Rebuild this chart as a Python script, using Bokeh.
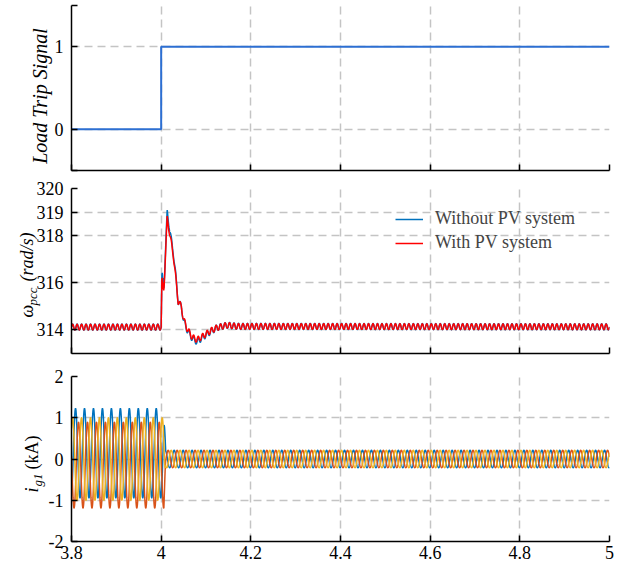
import math
import numpy as np
from bokeh.plotting import figure
from bokeh.layouts import column
from bokeh.models import FixedTicker, Range1d
from bokeh.core.properties import value
from bokeh.embed import file_html
from bokeh.resources import INLINE

# ---------------- data ----------------
x_ticks = [3.8, 4.0, 4.2, 4.4, 4.6, 4.8, 5.0]
x_tick_labels = ["3.8", "4", "4.2", "4.4", "4.6", "4.8", "5"]
x_grid = [4.0, 4.2, 4.4, 4.6, 4.8]

# Panel 1: load trip signal
trip_t = [3.8, 4.0, 4.0, 5.0]
trip_signal = [0, 0, 1, 1]
sig_ticks = [0, 1]
sig_tick_labels = ["0", "1"]
sig_end_ticks = [-0.5, 1.5]
sig_grid = [0, 1]

# Panel 2: PCC angular frequency (rad/s), slow trend + 100 Hz ripple
w_key_t = [3.8, 4.0, 4.0015, 4.0025, 4.0035, 4.0045, 4.0055, 4.0065, 4.0135,
           4.021, 4.027, 4.032, 4.038, 4.045, 4.050, 4.058, 4.069, 4.080,
           4.095, 4.110, 4.125, 4.147, 4.17, 5.0]
w_without_pv = [314.12, 314.12, 316.2, 316.3, 315.7, 316.2, 315.8, 316.0, 319.0,
                318.0, 317.3, 316.4, 315.2, 315.0, 314.4, 314.0, 313.65, 313.5,
                313.72, 313.93, 314.1, 314.2, 314.15, 314.13]
w_with_pv = [314.12, 314.12, 316.0, 316.1, 315.6, 316.0, 315.7, 315.9, 318.75,
             317.85, 317.2, 316.3, 315.2, 315.0, 314.45, 314.05, 313.7, 313.58,
             313.76, 313.96, 314.1, 314.2, 314.15, 314.13]
w_ripple_amp = [0.13, 0.12]
w_ripple_hz = 100
w_ticks = [314, 316, 318, 319, 320]
w_tick_labels = ["314", "316", "318", "319", "320"]
w_grid = [314, 316, 318, 319]

# Panel 3: grid current, three phases (kA)
grid_hz = 50
phase_a_first_peak = 3.809
phase_lag_deg = [0, 120, 240]
amp_before = [1.085, 1.04, 1.0]
offset_before = [0.14, -0.15, 0.0]
amp_after = [0.21, 0.21, 0.21]
trip_ramp = [4.006, 4.010]
i_ticks = [-2, -1, 0, 1, 2]
i_tick_labels = ["-2", "-1", "0", "1", "2"]
i_grid = [-1, 0, 1]

phase_colors = ["#0072BD", "#D95319", "#EDB120"]
SERIF = "Liberation Serif"
X0, X1 = 3.8, 5.0
FRAME_W, FRAME_H = 538, 165

# ---------------- build series ----------------
t = np.arange(X0, X1 + 1e-9, 0.0002)
ripple = np.sin(2 * np.pi * w_ripple_hz * (t - X0))
w_blue = np.interp(t, w_key_t, w_without_pv) + w_ripple_amp[0] * ripple
w_red = np.interp(t, w_key_t, w_with_pv) + w_ripple_amp[1] * ripple

mix = np.interp(t, trip_ramp, [0.0, 1.0])  # 0 before the trip, 1 after
currents = []
for k in range(3):
    ph = 2 * np.pi * grid_hz * (t - phase_a_first_peak) - math.radians(phase_lag_deg[k])
    wave = np.cos(ph)
    currents.append((1 - mix) * (offset_before[k] + amp_before[k] * wave)
                    + mix * amp_after[k] * wave)


def tick_style(ax):
    ax.axis_line_color = "black"
    ax.axis_line_width = 1.5
    ax.major_tick_line_color = "black"
    ax.major_tick_line_width = 1.5
    ax.major_tick_in = 6
    ax.major_tick_out = 0
    ax.minor_tick_line_color = "black"
    ax.minor_tick_line_width = 1.5
    ax.minor_tick_in = 6
    ax.minor_tick_out = 0
    ax.major_label_text_font = SERIF
    ax.major_label_text_font_size = "18px"
    ax.major_label_text_color = "black"


def style(p, y_ticks, y_labels, y_grid, show_x_labels, y_minor=()):
    p.outline_line_color = None
    p.background_fill_color = "white"
    p.border_fill_color = "white"
    tick_style(p.xaxis[0])
    tick_style(p.yaxis[0])
    if show_x_labels:
        p.xaxis.ticker = FixedTicker(ticks=x_ticks, minor_ticks=[])
        p.xaxis.major_label_overrides = {v: s for v, s in zip(x_ticks, x_tick_labels)}
        p.xaxis.major_label_standoff = 4
    else:
        # tick marks only, no labels on the upper panels
        p.xaxis.ticker = FixedTicker(ticks=[], minor_ticks=x_ticks)
    p.yaxis.ticker = FixedTicker(ticks=y_ticks, minor_ticks=list(y_minor))
    p.yaxis.major_label_overrides = {v: s for v, s in zip(y_ticks, y_labels)}
    p.yaxis.major_label_standoff = 8
    p.xgrid.ticker = FixedTicker(ticks=x_grid)
    p.ygrid.ticker = FixedTicker(ticks=y_grid)
    for g in (p.xgrid[0], p.ygrid[0]):
        g.grid_line_color = "#C4C4C4"
        g.grid_line_width = 1.5
        g.grid_line_dash = "8 5"


def ylabel(p, y_lo, y_hi, pieces):
    """Rotated y-label pieces placed in the left margin.
    pieces: (text, px left of frame, px up from frame bottom, size, style, align)"""
    for text, px, py, size, fstyle, align in pieces:
        xd = X0 - px * (X1 - X0) / FRAME_W
        yd = y_lo + py * (y_hi - y_lo) / FRAME_H
        p.text(x=[xd], y=[yd], text=[text], angle=math.pi / 2,
               text_font=value(SERIF), text_font_size=value(size),
               text_font_style=fstyle, text_align=align, text_baseline="middle",
               text_color="black", level="overlay")


xr = Range1d(X0, X1)


def main_fig(y_range, top, bottom):
    return figure(x_range=xr, y_range=y_range, frame_width=FRAME_W, frame_height=FRAME_H,
                  min_border_left=71, min_border_right=16, min_border_top=top,
                  min_border_bottom=bottom, toolbar_location=None, output_backend="svg")


# Panel 1
p1 = main_fig(Range1d(-0.5, 1.5), 5, 9)
p1.line(trip_t, trip_signal, line_color="#2D6FD2", line_width=2)
style(p1, sig_ticks, sig_tick_labels, sig_grid, False, sig_end_ticks)
ylabel(p1, -0.5, 1.5, [("Load Trip Signal", 32, 74.5, "20px", "italic", "center")])

# Panel 2
p2 = main_fig(Range1d(313, 320), 9, 11)
p2.line(t, w_blue, line_color="#0072BD", line_width=1.5, legend_label="Without PV system")
p2.line(t, w_red, line_color="#FF0000", line_width=1.5, legend_label="With PV system")
style(p2, w_ticks, w_tick_labels, w_grid, False)
lg = p2.legend[0]
lg.location = (324, 100)
lg.background_fill_alpha = 0
lg.border_line_color = None
lg.padding = 0
lg.margin = 0
lg.spacing = 3
lg.label_height = 20
lg.glyph_height = 20
lg.glyph_width = 28
lg.label_standoff = 12
lg.label_text_font = SERIF
lg.label_text_font_size = "18px"
ylabel(p2, 313, 320, [("ω", 45, 36, "18px", "italic", "left"),
                      ("pcc", 39.4, 48, "13px", "italic", "left"),
                      ("(rad/s)", 45, 72, "18px", "italic", "left")])

# Panel 3
p3 = main_fig(Range1d(-2, 2), 12, 27)
for k in range(3):
    p3.line(t, currents[k], line_color=phase_colors[k], line_width=1.5)
style(p3, i_ticks, i_tick_labels, i_grid, True)
ylabel(p3, -2, 2, [("i", 40, 49, "18px", "italic", "left"),
                   ("g1", 34.4, 55, "13px", "italic", "left"),
                   ("(kA)", 40, 72, "18px", "normal", "left")])

layout = column(p1, p2, p3, spacing=0)
open("out.html", "w").write(file_html(layout, INLINE))
